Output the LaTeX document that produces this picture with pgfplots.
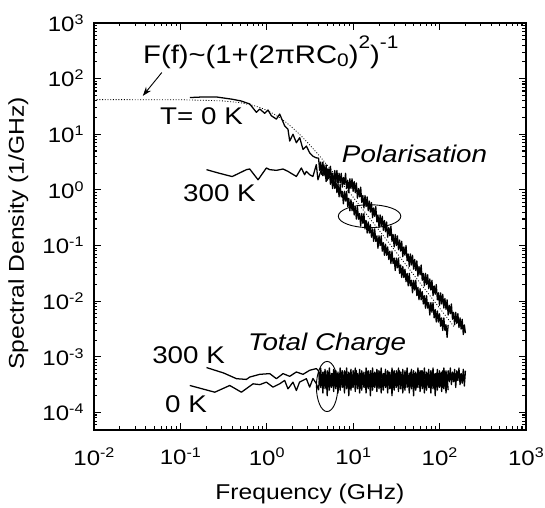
\documentclass[border=0pt]{standalone}
\usepackage{pgfplots}
\usepackage{pgfplotstable}
\pgfplotsset{compat=1.18}
\usetikzlibrary{arrows.meta}
\usepackage{fontspec}
\setmainfont{Liberation Sans}[FakeStretch=1.15]
\newcommand{\ex}[1]{\raisebox{3.9pt}{\fontsize{7.7}{8}\selectfont #1}}
\newcommand{\tl}[1]{10\ex{#1}}
\newcommand{\annot}{\fontsize{13.3}{14}\selectfont}
% high-frequency part of the four traces (nan = trace not present)
\pgfplotstableread{
x p0 p300 tc300 tc0
3.981 3.758 nan 5.623e-4 2.512e-4
4.097 2.239 nan 3.548e-4 5.012e-4
4.217 3.162 nan 6.310e-4 2.818e-4
4.340 1.884 nan 3.162e-4 4.467e-4
4.467 3.162 1.778 5.309e-4 2.239e-4
4.597 1.884 2.818 3.548e-4 5.309e-4
4.732 2.371 1.778 5.957e-4 2.661e-4
4.870 1.413 2.818 2.818e-4 4.732e-4
5.012 2.371 1.496 5.623e-4 1.995e-4
5.158 1.585 2.371 3.758e-4 5.012e-4
5.309 2.371 1.778 6.310e-4 2.512e-4
5.464 1.259 2.661 3.162e-4 4.217e-4
5.623 1.778 1.496 5.012e-4 2.818e-4
5.787 1.059 1.995 3.350e-4 5.012e-4
5.957 1.679 1.259 5.957e-4 2.371e-4
6.131 1.059 2.239 2.985e-4 5.623e-4
6.310 1.496 1.413 5.623e-4 2.661e-4
6.494 0.8913 2.239 3.548e-4 4.732e-4
6.683 1.259 1.259 5.309e-4 2.239e-4
6.878 0.7499 1.995 2.818e-4 4.467e-4
7.079 1.259 1.334 6.310e-4 2.512e-4
7.286 0.7499 1.995 3.981e-4 5.012e-4
7.499 0.9441 1.122 5.623e-4 2.818e-4
7.718 0.5623 1.679 3.162e-4 4.467e-4
7.943 0.9441 1.259 5.623e-4 2.239e-4
8.175 0.6310 1.995 3.548e-4 5.309e-4
8.414 0.9441 1.059 6.310e-4 2.661e-4
8.660 0.5012 1.496 3.162e-4 4.732e-4
8.913 0.7079 0.8913 5.309e-4 1.995e-4
9.173 0.4217 1.585 3.548e-4 5.012e-4
9.441 0.6683 1.059 5.957e-4 2.512e-4
9.716 0.4217 1.585 2.818e-4 4.217e-4
10 0.5957 0.9441 5.623e-4 2.818e-4
10.29 0.3548 1.413 3.758e-4 5.012e-4
10.59 0.5012 0.8913 6.310e-4 2.371e-4
10.90 0.2985 1.334 3.162e-4 5.623e-4
11.22 0.5012 0.7079 5.012e-4 2.661e-4
11.55 0.2985 1.059 3.350e-4 4.732e-4
11.89 0.3758 0.7499 5.957e-4 2.239e-4
12.24 0.2239 1.122 2.985e-4 4.467e-4
12.59 0.3758 0.5957 5.623e-4 2.512e-4
12.96 0.2512 0.7943 3.548e-4 5.012e-4
13.34 0.3758 0.4732 5.309e-4 2.818e-4
13.73 0.1995 0.7943 2.818e-4 4.467e-4
14.13 0.2818 0.5012 6.310e-4 2.239e-4
14.54 0.1679 0.7499 3.981e-4 5.309e-4
14.96 0.2661 0.4217 5.623e-4 2.661e-4
15.40 0.1679 0.6310 3.162e-4 4.732e-4
15.85 0.2371 0.3981 5.623e-4 1.995e-4
16.31 0.1413 0.5957 3.548e-4 5.012e-4
16.79 0.1995 0.3162 6.310e-4 2.512e-4
17.28 0.1189 0.4732 3.162e-4 4.217e-4
17.78 0.1995 0.3350 5.309e-4 2.818e-4
18.30 0.1189 0.5012 3.548e-4 5.012e-4
18.84 0.1496 0.2661 5.957e-4 2.371e-4
19.39 0.08913 0.3548 2.818e-4 5.623e-4
19.95 0.1496 0.2113 5.623e-4 2.661e-4
20.53 0.1000 0.3548 3.758e-4 4.732e-4
21.13 0.1496 0.2239 6.310e-4 2.239e-4
21.75 0.07943 0.3350 3.162e-4 4.467e-4
22.39 0.1122 0.1884 5.012e-4 2.512e-4
23.04 0.06683 0.2818 3.350e-4 5.012e-4
23.71 0.1059 0.1778 5.957e-4 2.818e-4
24.40 0.06683 0.2661 2.985e-4 4.467e-4
25.12 0.09441 0.1413 5.623e-4 2.239e-4
25.85 0.05623 0.2113 3.548e-4 5.309e-4
26.61 0.07943 0.1496 5.309e-4 2.661e-4
27.39 0.04732 0.2239 2.818e-4 4.732e-4
28.18 0.07943 0.1189 6.310e-4 1.995e-4
29.00 0.04732 0.1585 3.981e-4 5.012e-4
29.85 0.05957 0.09441 5.623e-4 2.512e-4
30.72 0.03548 0.1585 3.162e-4 4.217e-4
31.62 0.05957 0.1000 5.623e-4 2.818e-4
32.54 0.03981 0.1496 3.548e-4 5.012e-4
33.50 0.05957 0.08414 6.310e-4 2.371e-4
34.48 0.03162 0.1259 3.162e-4 5.623e-4
35.48 0.04467 0.07943 5.309e-4 2.661e-4
36.52 0.02661 0.1189 3.548e-4 4.732e-4
37.58 0.04217 0.06310 5.957e-4 2.239e-4
38.68 0.02661 0.09441 2.818e-4 4.467e-4
39.81 0.03758 0.06683 5.623e-4 2.512e-4
40.97 0.02239 0.1000 3.758e-4 5.012e-4
42.17 0.03162 0.05309 6.310e-4 2.818e-4
43.40 0.01884 0.07079 3.162e-4 4.467e-4
44.67 0.03162 0.04217 5.012e-4 2.239e-4
45.97 0.01884 0.07079 3.350e-4 5.309e-4
47.32 0.02371 0.04467 5.957e-4 2.661e-4
48.70 0.01413 0.06683 2.985e-4 4.732e-4
50.12 0.02371 0.03758 5.623e-4 1.995e-4
51.58 0.01585 0.05623 3.548e-4 5.012e-4
53.09 0.02371 0.03548 5.309e-4 2.512e-4
54.64 0.01259 0.05309 2.818e-4 4.217e-4
56.23 0.01778 0.02818 6.310e-4 2.818e-4
57.87 0.01059 0.04217 3.981e-4 5.012e-4
59.57 0.01679 0.02985 5.623e-4 2.371e-4
61.31 0.01059 0.04467 3.162e-4 5.623e-4
63.10 0.01496 0.02371 5.623e-4 2.661e-4
64.94 0.008913 0.03162 3.548e-4 4.732e-4
66.83 0.01259 0.01884 6.310e-4 2.239e-4
68.78 0.007499 0.03162 3.162e-4 4.467e-4
70.79 0.01259 0.01995 5.309e-4 2.512e-4
72.86 0.007499 0.02985 3.548e-4 5.012e-4
74.99 0.009441 0.01679 5.957e-4 2.818e-4
77.18 0.005623 0.02512 2.818e-4 4.467e-4
79.43 0.009441 0.01585 5.623e-4 2.239e-4
81.75 0.006310 0.02371 3.758e-4 5.309e-4
84.14 0.009441 0.01259 6.310e-4 2.661e-4
86.60 0.005012 0.01884 3.162e-4 4.732e-4
89.13 0.007079 0.01334 5.012e-4 1.995e-4
91.73 0.004217 0.01995 3.350e-4 5.012e-4
94.41 0.006683 0.01059 5.957e-4 2.512e-4
97.16 0.004217 0.01413 2.985e-4 4.217e-4
100 0.005957 0.008414 5.623e-4 2.818e-4
102.9 0.003548 0.01413 3.548e-4 5.012e-4
105.9 0.005012 0.008913 5.309e-4 2.371e-4
109.0 0.002985 0.01334 2.818e-4 5.623e-4
112.2 0.005012 0.007499 6.310e-4 2.661e-4
115.5 0.002985 0.01122 3.981e-4 4.732e-4
118.9 0.003758 0.007079 5.623e-4 2.239e-4
122.4 0.002239 0.01059 3.162e-4 4.467e-4
125.9 0.003758 0.005623 5.623e-4 2.512e-4
129.6 nan 0.008414 3.548e-4 nan
133.4 nan 0.005957 6.310e-4 nan
137.3 nan 0.008913 3.162e-4 nan
141.3 nan 0.004732 5.309e-4 nan
145.4 nan 0.006310 3.548e-4 nan
149.6 nan 0.003758 5.957e-4 nan
154.0 nan 0.006310 2.818e-4 nan
158.5 nan 0.003981 5.623e-4 nan
163.1 nan 0.005957 3.758e-4 nan
167.9 nan 0.003350 6.310e-4 nan
172.8 nan 0.005012 3.162e-4 nan
177.8 nan 0.003162 5.012e-4 nan
183.0 nan 0.004732 3.350e-4 nan
188.4 nan 0.002512 5.957e-4 nan
193.9 nan 0.003758 2.985e-4 nan
199.5 nan 0.002661 5.623e-4 nan
}\hightab
\begin{document}
\begin{tikzpicture}
\useasboundingbox (-51.7pt,-42.9pt) rectangle (248.3pt,236.66pt);
\begin{axis}[
  at={(0,0)}, anchor=south west,
  scale only axis, width=237.8pt, height=224pt,
  xmode=log, ymode=log,
  xmin=0.01, xmax=1000, ymin=4.85e-5, ymax=1000,
  unbounded coords=discard,
  xtick={0.01,0.1,1,10,100,1000},
  xticklabels={\tl{-2},\tl{-1},\tl{0},\tl{1},\tl{2},\tl{3}},
  ytick={1e-4,1e-3,1e-2,0.1,1,10,100,1000},
  yticklabels={\tl{-4},\tl{-3},\tl{-2},\tl{-1},\tl{0},\tl{1},\tl{2},\tl{3}},
  minor xtick={0.02,0.03,0.04,0.05,0.06,0.07,0.08,0.09,0.2,0.3,0.4,0.5,0.6,0.7,0.8,0.9,2,3,4,5,6,7,8,9,20,30,40,50,60,70,80,90,200,300,400,500,600,700,800,900},
  minor ytick={5e-5,6e-5,7e-5,8e-5,9e-5,2e-4,3e-4,4e-4,5e-4,6e-4,7e-4,8e-4,9e-4,2e-3,3e-3,4e-3,5e-3,6e-3,7e-3,8e-3,9e-3,0.02,0.03,0.04,0.05,0.06,0.07,0.08,0.09,0.2,0.3,0.4,0.5,0.6,0.7,0.8,0.9,2,3,4,5,6,7,8,9,20,30,40,50,60,70,80,90,200,300,400,500,600,700,800,900},
  /pgf/number format/assume math mode=true,
  tick label style={font=\fontsize{11.5}{12}\selectfont, black},
  xticklabel style={yshift=-6.5pt},
  yticklabel style={xshift=-2.2pt},
  major tick length=3.7pt, minor tick length=1.9pt,
  every tick/.style={black, line width=0.6pt},
  axis line style={line width=0.8pt},
  xlabel={Frequency (GHz)},
  ylabel={Spectral Density (1/GHz)},
  label style={font=\fontsize{11.8}{12}\selectfont},
  xlabel style={at={(axis description cs:0.5,-0.157)}, anchor=center},
  ylabel style={at={(axis description cs:-0.175,0.483)}, anchor=center},
  trace/.style={black, line width=0.7pt, line join=round},
]
% Lorentzian fit (dotted)
\addplot[black, line width=0.45pt, dash pattern=on 0.5pt off 1pt] coordinates {
(0.01,42) (0.1,41.77) (0.3,40.0) (0.5,36.87) (0.7,33.0) (0.85,29.95) (1,26.98) (1.2,23.31) (1.4,20.08) (1.7,16.10) (2,13.01) (2.5,9.373) (3,6.986) (4,4.238) (6,1.995) (10,0.7409) (20,0.1878) (50,0.03014) (100,0.007541) (150,0.003351)
};
% Polarisation, T = 0 K
\addplot[trace] coordinates {
(0.1288,45.71) (0.1778,46.77) (0.2630,46.77) (0.3981,42.66) (0.5012,39.81) (0.6353,35.08) (0.7603,24.77) (0.8299,28.51) (0.9484,23.77) (1.035,27.29) (1.132,21.53) (1.294,18.75) (1.413,23.12) (1.614,14.19) (1.762,12.33) (1.845,7.568) (2.014,10.0) (2.203,7.047) (2.410,8.690) (2.630,5.333) (2.877,6.138) (3.141,4.645) (3.428,4.036) (3.750,3.767) (3.981,3.758)
};
\addplot[trace] table[x=x, y=p0] {\hightab};
% Polarisation, 300 K
\addplot[trace] coordinates {
(0.2009,2.312) (0.2818,1.995) (0.3981,1.738) (0.5821,2.312) (0.6353,2.377) (0.7943,1.521) (0.9908,2.477) (1.084,2.312) (1.294,2.249) (1.545,2.377) (1.762,2.153) (2.203,1.746) (2.518,2.477) (2.748,1.875) (2.877,2.153) (3.141,1.875) (3.428,1.746) (3.750,2.851) (3.917,1.521) (4.285,2.312) (4.467,1.778)
};
\addplot[trace] table[x=x, y=p300] {\hightab};
% Total charge, 300 K
\addplot[trace] coordinates {
(0.2009,6.412e-4) (0.3162,5.129e-4) (0.4467,4.046e-4) (0.5821,3.926e-4) (0.6353,4.325e-4) (0.8299,4.842e-4) (1.084,4.989e-4) (1.294,4.046e-4) (1.545,4.989e-4) (1.845,4.457e-4) (2.203,5.346e-4) (2.630,4.842e-4) (3.141,5.728e-4) (3.750,6.138e-4) (3.981,5.623e-4)
};
\addplot[trace] table[x=x, y=tc300] {\hightab};
% Total charge, 0 K
\addplot[trace] coordinates {
(0.1288,3.055e-4) (0.2506,2.312e-4) (0.3733,3.055e-4) (0.5093,2.312e-4) (0.6950,3.273e-4) (0.8318,3.162e-4) (0.9908,3.508e-4) (1.183,2.851e-4) (1.413,3.273e-4) (1.614,3.767e-4) (1.762,2.655e-4) (2.014,3.508e-4) (2.203,2.477e-4) (2.399,3.508e-4) (2.877,4.046e-4) (3.141,2.851e-4) (3.428,4.074e-4) (3.750,3.311e-4) (3.981,2.512e-4)
};
\addplot[trace] table[x=x, y=tc0] {\hightab};
% annotations
\node[anchor=base west, inner sep=0pt, font=\fontsize{14}{14}\selectfont] at (axis cs:0.0368,187.5)
  {F(f)\textasciitilde(1+(2πRC\lower1.6pt\hbox{\fontsize{10}{10}\selectfont 0})\raise8.2pt\hbox{\fontsize{10}{10}\selectfont 2})\raise8.2pt\hbox{\fontsize{10}{10}\selectfont -1}};
\draw[black, line width=0.5pt, -{Stealth[length=5pt,width=3.5pt]}] (axis cs:0.0611,128.8) -- (axis cs:0.0368,49);
\node[anchor=base west, inner sep=0pt, font=\annot] at (axis cs:0.0579,15.2) {T= 0 K};
\node[anchor=base west, inner sep=0pt, font=\annot] at (axis cs:0.1069,0.6125) {300 K};
\node[anchor=base west, inner sep=0pt, font=\annot\itshape] at (axis cs:7.36,3.06) {Polarisation};
\node[anchor=base west, inner sep=0pt, font=\annot\itshape] at (axis cs:0.603,1.324e-3) {Total Charge};
\node[anchor=base west, inner sep=0pt, font=\annot] at (axis cs:0.0469,7.59e-4) {300 K};
\node[anchor=base west, inner sep=0pt, font=\annot] at (axis cs:0.0662,1e-4) {0 K};
\draw[black, line width=0.5pt] (axis cs:15.5,0.337) ellipse [x radius=17.2pt, y radius=6.3pt];
\draw[black, line width=0.5pt] (axis cs:5.0,2.93e-4) ellipse [x radius=5.9pt, y radius=13.8pt];
\end{axis}
\end{tikzpicture}
\end{document}
